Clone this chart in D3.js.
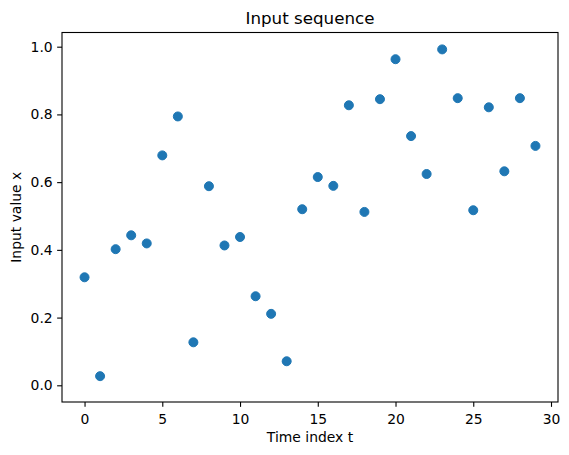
<!DOCTYPE html>
<html>
<head>
<meta charset="utf-8">
<script src="https://cdn.jsdelivr.net/npm/d3@7"></script>
<style>
  body { margin: 0; background: #fff; }
  svg { display: block; font-family: "DejaVu Sans", sans-serif; }
</style>
</head>
<body>
<svg id="chart" width="569" height="455"></svg>
<script>
// Values
const timeIndex = d3.range(0, 30);
const inputValues = [
  0.319, 0.027, 0.402, 0.443, 0.419, 0.679, 0.794, 0.127, 0.588, 0.413,
  0.438, 0.263, 0.211, 0.071, 0.520, 0.615, 0.589, 0.827, 0.512, 0.845,
  0.963, 0.736, 0.624, 0.992, 0.848, 0.517, 0.821, 0.632, 0.848, 0.707
];
const xTicks = [0, 5, 10, 15, 20, 25, 30];
const yTicks = [0.0, 0.2, 0.4, 0.6, 0.8, 1.0];

const svg = d3.select('#chart');
const margins = { left: 62, top: 32.5 };
const width = 496, height = 369.5;
const tickLen = 4.86;

const xScale = d3.scaleLinear().domain([-1.45, 30.45]).range([0, width]);
const yScale = d3.scaleLinear().domain([-0.0493, 1.0419]).range([height, 0]);

const g = svg.append('g')
  .attr('transform', `translate(${margins.left},${margins.top})`);

// Points
g.selectAll('.dot')
  .data(timeIndex)
  .enter().append('circle')
  .attr('class', 'dot')
  .attr('cx', d => xScale(d))
  .attr('cy', (d, i) => yScale(inputValues[i]))
  .attr('r', 4.5)
  .attr('fill', '#1f77b4')
  .attr('stroke', '#1f77b4')
  .attr('stroke-width', 1);

// Axes
const xAxis = g.append('g')
  .attr('transform', `translate(0,${height})`)
  .call(d3.axisBottom(xScale).tickValues(xTicks).tickSize(tickLen).tickPadding(6.8).tickFormat(d3.format('d')));
const yAxis = g.append('g')
  .call(d3.axisLeft(yScale).tickValues(yTicks).tickSize(tickLen).tickPadding(4.5).tickFormat(d3.format('.1f')));

[xAxis, yAxis].forEach(ax => {
  ax.select('.domain').remove();
  ax.selectAll('line').attr('stroke', '#000').attr('stroke-width', 1.1);
  ax.selectAll('text').attr('fill', '#000').style('font-size', '13.9px')
    .style('font-family', '"DejaVu Sans", sans-serif');
});

// Frame
g.append('rect')
  .attr('width', width)
  .attr('height', height)
  .attr('fill', 'none')
  .attr('stroke', '#000')
  .attr('stroke-width', 1.1);

// Title and labels
svg.append('text')
  .attr('x', margins.left + width / 2)
  .attr('y', 24)
  .attr('text-anchor', 'middle')
  .style('font-size', '16.7px')
  .text('Input sequence');

svg.append('text')
  .attr('x', margins.left + width / 2)
  .attr('y', 441.5)
  .attr('text-anchor', 'middle')
  .style('font-size', '13.9px')
  .text('Time index t');

svg.append('text')
  .attr('transform', `translate(20.5,${margins.top + height / 2}) rotate(-90)`)
  .attr('text-anchor', 'middle')
  .style('font-size', '13.9px')
  .text('Input value x');
</script>
</body>
</html>
